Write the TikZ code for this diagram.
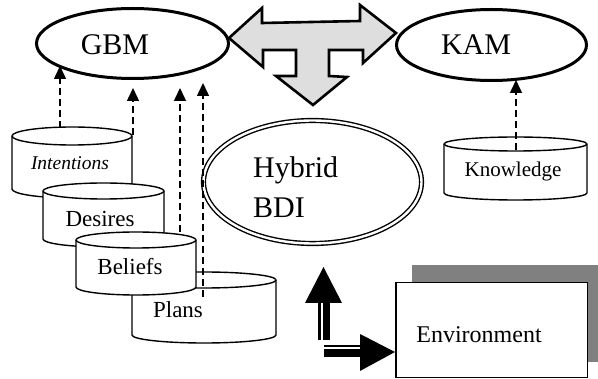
\documentclass[tikz,border=0pt]{standalone}
\usepackage{fontspec}
\setmainfont{Liberation Serif}
\usetikzlibrary{arrows.meta,shapes.geometric}

\definecolor{teefill}{HTML}{DEDEDE}
\definecolor{shadowgray}{HTML}{808080}

% database drum: left, right, top, bottom, rim half-height (y grows downward)
\newcommand\dbcyl[5]{%
  \filldraw[store] ({#1},{#3+#5}) -- ({#1},{#4-#5})
    arc[start angle=180,end angle=0,x radius={(#2-#1)/2},y radius=#5]
    -- ({#2},{#3+#5})
    arc[start angle=0,end angle=-180,x radius={(#2-#1)/2},y radius=#5] -- cycle;
  \draw[store] ({#1},{#3+#5})
    arc[start angle=180,end angle=0,x radius={(#2-#1)/2},y radius=#5];
}

\tikzset{
  module/.style={draw, ellipse, line width=3pt, inner sep=0pt},
  store/.style={draw, fill=white, line width=1.4pt},
  feed/.style={line width=1.5pt, dash pattern=on 7pt off 4pt,
               -{Triangle[length=13pt,width=12pt]}},
  tee/.style={draw, fill=teefill, line width=2.6pt, line join=miter},
  txt/.style={inner sep=0pt, anchor=base},
  bigtxt/.style={txt, font=\fontsize{30}{36}\selectfont},
  midtxt/.style={txt, font=\fontsize{23}{28}\selectfont},
}

\begin{document}
\begin{tikzpicture}[x=1pt,y=-1pt]
\useasboundingbox (0,0) rectangle (598,379);

% three-way block connector between the modules and the core
\filldraw[tee] (229,38) -- (262,8) -- (262,23) -- (360,21) -- (360,5)
  -- (396,33) -- (363,63) -- (363,50) -- (329,50) -- (329,76) -- (347,77)
  -- (313,105) -- (276,76) -- (296,76) -- (296,50) -- (263,50) -- (263,67)
  -- cycle;

% modules
\node[module, minimum width=192pt, minimum height=70pt] (gbm) at (132.5,43.5) {};
\node[bigtxt] (gbmtext) at (115,55) {GBM};
\node[module, minimum width=190pt, minimum height=71pt] (kam) at (491.5,45) {};
\node[bigtxt] (kamtext) at (476,55) {KAM};

% hybrid BDI core
\node[draw, ellipse, double, double distance=2.4pt, line width=1.4pt,
      minimum width=218pt, minimum height=123pt, inner sep=0pt] (core) at (312.5,182) {};
\node[bigtxt, anchor=base west] (hyb1) at (253,178) {Hybrid};
\node[bigtxt, anchor=base west] (hyb2) at (253,218) {BDI};

% mental-state stores
\dbcyl{12}{132}{127}{198}{9}
\node[txt, font=\fontsize{19.5}{24}\selectfont\itshape] (intent) at (70,170) {Intentions};
\dbcyl{43}{164}{183}{247}{8}
\node[midtxt] (desire) at (100,227) {Desires};
\dbcyl{132}{276}{272}{343}{8}
\node[midtxt] (plan) at (178,318) {Plans};
\dbcyl{76}{196}{232}{295}{8}
\node[midtxt] (belief) at (130,275) {Beliefs};
\dbcyl{444}{587}{137}{200}{7}
\node[txt, font=\fontsize{21}{25}\selectfont] (know) at (513,177) {Knowledge};

% feeds into the modules
\coordinate (iS) at (60,128);   \coordinate (iT) at (60,66);
\coordinate (dS) at (133,135);  \coordinate (dT) at (133,88);
\coordinate (bS) at (180,232);  \coordinate (bT) at (180,88);
\coordinate (pS) at (203,297);  \coordinate (pT) at (203,83);
\coordinate (kS) at (516,150);  \coordinate (kT) at (516,80);
\draw[feed] (iS) -- (iT);
\draw[feed] (dS) -- (dT);
\draw[feed] (bS) -- (bT);
\draw[feed] (pS) -- (pT);
\draw[feed] (kS) -- (kT);

% environment box with its drop shadow
\fill[shadowgray] (412,265) rectangle (598,362);
\node[draw, fill=white, line width=1.5pt, minimum width=191.5pt,
      minimum height=94.75pt, inner sep=0pt] (env) at (491.5,330.1) {};
\node[txt, font=\fontsize{24}{28}\selectfont] (envtext) at (479,343) {Environment};

% perception / action block arrows
\fill (318.3,340) rectangle (330,303);
\fill (305,303) -- (323.5,267) -- (342,303) -- cycle;
\fill[white] (320.7,303) rectangle (322.7,340);
\fill (324,345) rectangle (360,357.3);
\fill (360,334) -- (395,352) -- (360,371) -- cycle;
\fill[white] (324,347.3) rectangle (360,349.3);
\end{tikzpicture}
\end{document}
